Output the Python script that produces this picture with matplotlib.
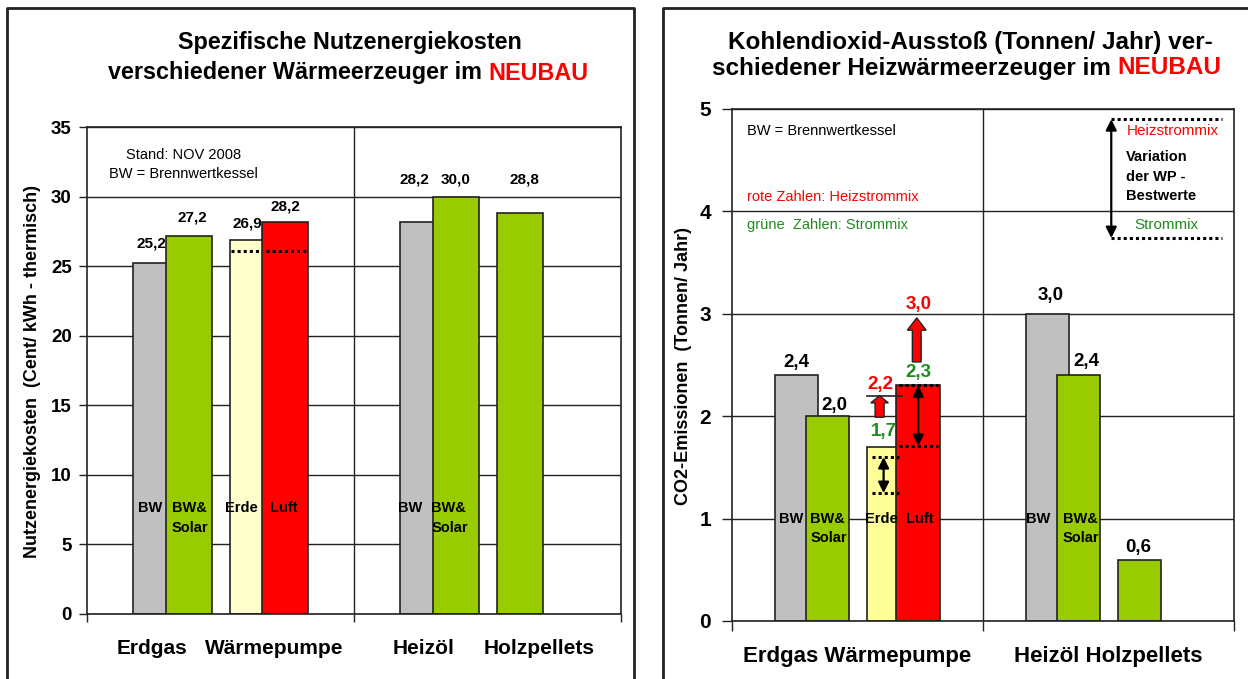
import numpy as np
import matplotlib
matplotlib.use("Agg")
import matplotlib.pyplot as plt
from matplotlib.lines import Line2D

plt.rcParams['font.family'] = ['Liberation Sans', 'DejaVu Sans']

# ---------------- data ----------------
cats_left = ['Erdgas', 'Wärmepumpe', 'Heizöl', 'Holzpellets']
cats_right = ['Erdgas Wärmepumpe', 'Heizöl Holzpellets']

cost_bw = [25.2, 28.2]          # Erdgas BW, Heizöl BW
cost_solar = [27.2, 30.0]       # BW & Solar
cost_erde = [26.9]              # WP Erde
cost_luft = [28.2]              # WP Luft
cost_pellets = [28.8]           # Holzpellets
cost_wp_best = 26.1             # dotted line (best values WP)

co2_bw = [2.4, 3.0]
co2_solar = [2.0, 2.4]
co2_erde = [1.7]
co2_luft = [2.3]
co2_pellets = [0.6]
co2_erde_heiz = 2.2             # red number (Heizstrommix)
co2_luft_heiz = 3.0
co2_erde_range = [1.6, 1.25]    # variation of WP best values
co2_luft_range = [2.3, 1.71]
legend_range = [4.9, 3.74]

# ---------------- layout ----------------
W, H = 1248, 679
fig = plt.figure(figsize=(W / 100, H / 100), dpi=100)

GRAY, GREEN, RED = '#C0C0C0', '#99CC00', '#FF0000'
DGREEN = '#1E8C1E'
BW_ = 0.172
pos_bw, pos_sol, pos_erde, pos_luft = 0.258, 0.382, 0.622, 0.741
cat_pos_left = [0.243, 0.702, 1.262, 1.693]
cat_pos_right = [0.5, 1.5]


def fx(px):
    return px / W


def fy(py):
    return 1 - py / H


def fmt(v):
    return f"{v:.1f}".replace('.', ',')


def setup(ax, ymax, ystep, cats, cpos, tlen, ypad, ysize, xsize):
    ax.set_xlim(0, 2)
    ax.set_ylim(0, ymax)
    ax.set_yticks(np.arange(0, ymax + 0.001, ystep))
    ax.set_yticklabels([f"{int(v)}" for v in np.arange(0, ymax + 0.001, ystep)],
                       fontsize=ysize, fontweight='bold')
    ax.set_xticks([0, 1, 2])
    ax.set_xticklabels([])
    ax.set_xticks(cpos, minor=True)
    ax.set_xticklabels(cats, minor=True, fontsize=xsize, fontweight='bold')
    ax.tick_params(axis='x', which='minor', length=0, pad=18)
    ax.tick_params(axis='x', which='major', length=tlen, width=1, color='#222')
    ax.tick_params(axis='y', length=tlen, width=1, color='#222', pad=ypad)
    ax.grid(axis='y', color='#222', lw=1)
    ax.set_axisbelow(True)
    ax.axvline(1, color='#222', lw=1, zorder=0.5)
    for s in ax.spines.values():
        s.set_color('#222')
        s.set_linewidth(1.2)


def bars(ax, xs, vals, color):
    ax.bar(xs, vals, width=BW_, color=color, edgecolor='#222', linewidth=1.2, zorder=2)


# ---------------- left chart ----------------
axL = fig.add_axes([fx(87), fy(614), fx(621 - 87), (614 - 127) / H])
setup(axL, 35, 5, cats_left, cat_pos_left, 6, 5, 13.5, 15)
bars(axL, [pos_bw, 1 + pos_bw], cost_bw, GRAY)
bars(axL, [pos_sol, 1 + pos_sol], cost_solar, GREEN)
bars(axL, [pos_erde], cost_erde, '#FFFFCC')
bars(axL, [pos_luft], cost_luft, RED)
bars(axL, [1 + pos_erde], cost_pellets, GREEN)

dot = dict(color='black', lw=2.2, linestyle=(0, (1, 1)), zorder=4)
axL.plot([0.539, 0.648], [cost_wp_best] * 2, **dot)
axL.plot([0.67, 0.82], [cost_wp_best] * 2, **dot)

lblL = dict(fontsize=11, fontweight='bold', ha='center', va='center', zorder=5)
left_vals = cost_bw[:1] + cost_solar[:1] + cost_erde + cost_luft + cost_bw[1:] + cost_solar[1:] + cost_pellets
left_lpos = [(0.243, 26.6), (0.393, 28.5), (0.599, 28.1), (0.745, 29.3),
             (1.228, 31.2), (1.382, 31.2), (1.637, 31.2)]
for v, (x, y) in zip(left_vals, left_lpos):
    axL.text(x, y, fmt(v), **lblL)

inL = dict(fontsize=10.5, fontweight='bold', va='center', zorder=5)
axL.text(0.236, 7.6, 'BW', ha='center', **inL)
axL.text(0.318, 7.6, 'BW&', ha='left', **inL)
axL.text(0.318, 6.2, 'Solar', ha='left', **inL)
axL.text(0.577, 7.6, 'Erde', ha='center', **inL)
axL.text(0.738, 7.6, 'Luft', ha='center', **inL)
axL.text(1.21, 7.6, 'BW', ha='center', **inL)
axL.text(1.29, 7.6, 'BW&', ha='left', **inL)
axL.text(1.29, 6.2, 'Solar', ha='left', **inL)

axL.text(0.36, 33.0, 'Stand: NOV 2008', fontsize=10.5, ha='center', va='center')
axL.text(0.36, 31.6, 'BW = Brennwertkessel', fontsize=10.5, ha='center', va='center')

fig.text(fx(33), fy(372), 'Nutzenergiekosten  (Cent/ kWh - thermisch)', rotation=90,
         fontsize=13, fontweight='bold', ha='center', va='center')

# ---------------- right chart ----------------
axR = fig.add_axes([fx(732), fy(621), fx(1234 - 732), (621 - 109) / H])
setup(axR, 5, 1, cats_right, cat_pos_right, 7, 8, 15, 16)
bars(axR, [pos_bw, 1 + pos_bw], co2_bw, GRAY)
bars(axR, [pos_sol, 1 + pos_sol], co2_solar, GREEN)
bars(axR, [pos_erde], co2_erde, '#FFFF99')
bars(axR, [pos_luft], co2_luft, RED)
bars(axR, [1 + pos_erde], co2_pellets, GREEN)

lblR = dict(fontsize=13.5, fontweight='bold', ha='center', va='center', zorder=5)
axR.text(0.258, 2.52, fmt(co2_bw[0]), **lblR)
axR.text(0.406, 2.10, fmt(co2_solar[0]), **lblR)
axR.text(0.604, 1.85, fmt(co2_erde[0]), color=DGREEN, **lblR)
axR.text(0.744, 2.43, fmt(co2_luft[0]), color=DGREEN, **lblR)
axR.text(0.592, 2.31, fmt(co2_erde_heiz), color=RED, **lblR)
axR.text(0.744, 3.09, fmt(co2_luft_heiz), color=RED, **lblR)
axR.text(1.268, 3.18, fmt(co2_bw[1]), **lblR)
axR.text(1.41, 2.53, fmt(co2_solar[1]), **lblR)
axR.text(1.618, 0.72, fmt(co2_pellets[0]), **lblR)

inR = dict(fontsize=10.5, fontweight='bold', va='center', zorder=5)
axR.text(0.235, 1.0, 'BW', ha='center', **inR)
axR.text(0.312, 1.0, 'BW&', ha='left', **inR)
axR.text(0.312, 0.81, 'Solar', ha='left', **inR)
axR.text(0.596, 1.0, 'Erde', ha='center', **inR)
axR.text(0.748, 1.0, 'Luft', ha='center', **inR)
axR.text(1.221, 1.0, 'BW', ha='center', **inR)
axR.text(1.318, 1.0, 'BW&', ha='left', **inR)
axR.text(1.318, 0.81, 'Solar', ha='left', **inR)

# red block arrows (Heizstrommix)
axR.arrow(0.588, 1.99, 0, co2_erde_heiz - 1.99, width=0.036, head_width=0.07,
          head_length=0.07, length_includes_head=True, fc=RED, ec='#222', lw=1, zorder=6)
axR.arrow(0.736, 2.53, 0, 2.96 - 2.53, width=0.035, head_width=0.075,
          head_length=0.12, length_includes_head=True, fc=RED, ec='#222', lw=1, zorder=6)
axR.plot([0.537, 0.677], [co2_erde_heiz] * 2, color='#222', lw=1.2, zorder=6)

# variation arrows
arr = dict(arrowstyle='<|-|>', color='black', lw=1.6, mutation_scale=16, shrinkA=0, shrinkB=0)
axR.annotate('', xy=(0.604, co2_erde_range[0]), xytext=(0.604, co2_erde_range[1]),
             arrowprops=arr, zorder=7)
axR.plot([0.557, 0.664], [co2_erde_range[0]] * 2, **dot)
axR.plot([0.557, 0.664], [co2_erde_range[1]] * 2, **dot)
axR.annotate('', xy=(0.742, co2_luft_range[0]), xytext=(0.742, co2_luft_range[1]),
             arrowprops=arr, zorder=7)
axR.plot([0.667, 0.819], [co2_luft_range[0]] * 2, **dot)
axR.plot([0.667, 0.819], [co2_luft_range[1]] * 2, **dot)

# legend block top right
axR.annotate('', xy=(1.511, legend_range[0]), xytext=(1.511, legend_range[1]),
             arrowprops=arr, zorder=7)
axR.plot([1.511, 1.952], [legend_range[0]] * 2, **dot)
axR.plot([1.511, 1.952], [legend_range[1]] * 2, **dot)
axR.text(1.571, 4.785, 'Heizstrommix', color=RED, fontsize=11, ha='left', va='center')
for yy, t in zip([4.53, 4.34, 4.15], ['Variation', 'der WP -', 'Bestwerte']):
    axR.text(1.571, yy, t, fontsize=10.5, fontweight='bold', ha='left', va='center')
axR.text(1.73, 3.87, 'Strommix', color=DGREEN, fontsize=11, ha='center', va='center')

axR.text(0.06, 4.785, 'BW = Brennwertkessel', fontsize=10.5, ha='left', va='center')
axR.text(0.06, 4.14, 'rote Zahlen: Heizstrommix', color=RED, fontsize=10.5, ha='left', va='center')
axR.text(0.06, 3.87, 'grüne  Zahlen: Strommix', color=DGREEN, fontsize=10.5, ha='left', va='center')

fig.text(fx(683), fy(366), 'CO2-Emissionen  (Tonnen/ Jahr)', rotation=90,
         fontsize=13, fontweight='bold', ha='center', va='center')

# ---------------- titles ----------------
def title_line(xc, y, parts, size):
    texts = [fig.text(0, fy(y), s, color=c, fontsize=size, fontweight='bold',
                      ha='left', va='center') for s, c in parts]
    fig.canvas.draw()
    r = fig.canvas.get_renderer()
    widths = [t.get_window_extent(r).width for t in texts]
    gap = 0.28 * size * 100 / 72
    total = sum(widths) + gap * (len(texts) - 1)
    x = xc - total / 2
    for t, w in zip(texts, widths):
        t.set_x(fx(x))
        x += w + gap


title_line(350, 43, [('Spezifische Nutzenergiekosten', 'black')], 16.8)
title_line(348, 73, [('verschiedener Wärmeerzeuger im', 'black'), ('NEUBAU', RED)], 16.8)
title_line(970, 42, [('Kohlendioxid-Ausstoß (Tonnen/ Jahr) ver-', 'black')], 17.5)
title_line(967, 68, [('schiedener Heizwärmeerzeuger im', 'black'), ('NEUBAU', RED)], 17.5)

# ---------------- panel frames ----------------
fig.add_artist(Line2D([fx(7), fx(7), fx(634), fx(634)], [0, fy(8), fy(8), 0],
                      transform=fig.transFigure, color='#222', lw=2))
fig.add_artist(Line2D([fx(663), fx(663), fx(1248)], [0, fy(8), fy(8)],
                      transform=fig.transFigure, color='#222', lw=2))

fig.savefig('out.png', dpi=100)
